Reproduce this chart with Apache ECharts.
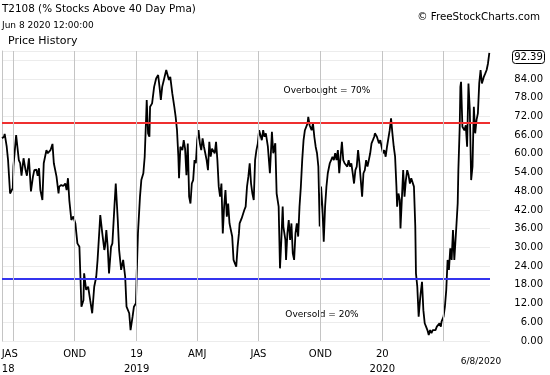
<!DOCTYPE html>
<html>
<head>
<meta charset="utf-8">
<script src="https://cdn.jsdelivr.net/npm/echarts@6.0.0/dist/echarts.min.js"></script>
<style>
html, body { margin: 0; padding: 0; background: #fff; }
#chart { width: 550px; height: 375px; }
</style>
</head>
<body>
<div id="chart"></div>
<script>
// T2108: % of stocks above their 40 day moving average
var t2108_2018 = [
    ['2018-06-15', 65], ['2018-06-18', 65.5], ['2018-06-19', 66.4], ['2018-06-22', 62.3], ['2018-06-24', 58],
    ['2018-06-27', 47.3], ['2018-07-01', 49], ['2018-07-02', 56], ['2018-07-06', 66], ['2018-07-10', 58],
    ['2018-07-12', 57], ['2018-07-14', 53], ['2018-07-17', 58.6], ['2018-07-20', 54.8], ['2018-07-22', 53],
    ['2018-07-25', 58.6], ['2018-07-28', 48], ['2018-07-31', 52.7], ['2018-08-02', 54.8], ['2018-08-05', 55],
    ['2018-08-07', 53], ['2018-08-09', 55.4], ['2018-08-11', 48.4], ['2018-08-14', 45.2], ['2018-08-16', 57],
    ['2018-08-20', 61.2], ['2018-08-22', 60.2], ['2018-08-26', 61.2], ['2018-08-29', 63.2], ['2018-08-31', 57],
    ['2018-09-04', 52.7], ['2018-09-07', 47.3], ['2018-09-08', 49.5], ['2018-09-11', 50], ['2018-09-14', 49.7],
    ['2018-09-17', 50.5], ['2018-09-19', 48.4], ['2018-09-21', 52.2], ['2018-09-23', 45.2], ['2018-09-26', 38.8],
    ['2018-09-29', 39.9], ['2018-10-02', 37.7], ['2018-10-05', 31.3], ['2018-10-08', 30.2], ['2018-10-11', 11],
    ['2018-10-14', 13.1], ['2018-10-15', 21.7], ['2018-10-18', 16.4], ['2018-10-21', 17.4], ['2018-10-24', 13.1],
    ['2018-10-27', 8.9], ['2018-10-30', 17.4], ['2018-11-02', 20.6], ['2018-11-04', 26], ['2018-11-07', 36.7],
    ['2018-11-08', 40.4], ['2018-11-11', 34.5], ['2018-11-14', 29.2], ['2018-11-15', 30.2], ['2018-11-17', 35.6],
    ['2018-11-19', 30.2], ['2018-11-21', 21.7], ['2018-11-24', 30.2], ['2018-11-26', 31.3], ['2018-11-29', 43],
    ['2018-12-01', 50.5], ['2018-12-04', 38.8], ['2018-12-06', 29.2], ['2018-12-09', 22.8], ['2018-12-12', 26],
    ['2018-12-15', 20.6], ['2018-12-17', 11], ['2018-12-21', 8.9], ['2018-12-23', 3.5], ['2018-12-26', 7.8],
    ['2018-12-28', 11], ['2018-12-31', 12.1]
];
var t2108_2019 = [
    ['2019-01-01', 20.6], ['2019-01-03', 34.5], ['2019-01-06', 46.3], ['2019-01-08', 51.6], ['2019-01-11', 53.8],
    ['2019-01-13', 59.1], ['2019-01-15', 70.9], ['2019-01-16', 77.3], ['2019-01-18', 66.6], ['2019-01-20', 65.5],
    ['2019-01-21', 75.1], ['2019-01-24', 76.2], ['2019-01-27', 81.5], ['2019-01-30', 84.2], ['2019-02-02', 85.3],
    ['2019-02-04', 81.5], ['2019-02-06', 77.3], ['2019-02-08', 81.5], ['2019-02-11', 84.2], ['2019-02-14', 86.9],
    ['2019-02-16', 85.3], ['2019-02-18', 83.7], ['2019-02-20', 84.7], ['2019-02-23', 79.4], ['2019-02-26', 75.1],
    ['2019-02-28', 71.9], ['2019-03-02', 67.6], ['2019-03-04', 59.1], ['2019-03-05', 52.2], ['2019-03-07', 62.3],
    ['2019-03-10', 61.2], ['2019-03-12', 64.4], ['2019-03-14', 61.7], ['2019-03-16', 53.2], ['2019-03-18', 63.3],
    ['2019-03-20', 46.3], ['2019-03-22', 44.1], ['2019-03-24', 50.5], ['2019-03-26', 51.6], ['2019-03-28', 58],
    ['2019-03-30', 57], ['2019-04-01', 64.4], ['2019-04-03', 67.6], ['2019-04-05', 63.3], ['2019-04-07', 61.2],
    ['2019-04-09', 65], ['2019-04-11', 62.3], ['2019-04-13', 60.2], ['2019-04-15', 58], ['2019-04-17', 54.8],
    ['2019-04-19', 63.9], ['2019-04-21', 59.1], ['2019-04-23', 61.7], ['2019-04-25', 62.3], ['2019-04-27', 60.2],
    ['2019-04-29', 63.9], ['2019-05-01', 58], ['2019-05-03', 49.5], ['2019-05-05', 46.3], ['2019-05-07', 50.5],
    ['2019-05-09', 34.5], ['2019-05-11', 43.1], ['2019-05-13', 48.4], ['2019-05-15', 39.9], ['2019-05-17', 44.1],
    ['2019-05-19', 37.7], ['2019-05-21', 35.6], ['2019-05-23', 33.5], ['2019-05-25', 26], ['2019-05-27', 24.9],
    ['2019-05-29', 23.8], ['2019-05-31', 30.2], ['2019-06-02', 34.5], ['2019-06-03', 37.7], ['2019-06-06', 39.3],
    ['2019-06-08', 39.3], ['2019-06-10', 42], ['2019-06-12', 43.1], ['2019-06-14', 49.5], ['2019-06-16', 52.7],
    ['2019-06-18', 57], ['2019-06-20', 50.5], ['2019-06-22', 47.3], ['2019-06-24', 45.2], ['2019-06-26', 58],
    ['2019-06-28', 61.2], ['2019-06-30', 63.3], ['2019-07-02', 67.6], ['2019-07-04', 66], ['2019-07-06', 64.4],
    ['2019-07-08', 67.6], ['2019-07-10', 65.5], ['2019-07-12', 66.6], ['2019-07-15', 62.3], ['2019-07-18', 53.8],
    ['2019-07-21', 67.1], ['2019-07-23', 60.2], ['2019-07-26', 63.4], ['2019-07-28', 47.3], ['2019-07-31', 43.1],
    ['2019-08-02', 23.3], ['2019-08-04', 32.4], ['2019-08-06', 43.1], ['2019-08-07', 36.7], ['2019-08-10', 32.4],
    ['2019-08-11', 26], ['2019-08-13', 34.5], ['2019-08-15', 38.8], ['2019-08-17', 32.4], ['2019-08-19', 37.7],
    ['2019-08-21', 28.1], ['2019-08-23', 26], ['2019-08-25', 34.5], ['2019-08-27', 37.7], ['2019-08-29', 33.5],
    ['2019-08-31', 43.1], ['2019-09-02', 49.5], ['2019-09-04', 58], ['2019-09-06', 64.4], ['2019-09-08', 67.6],
    ['2019-09-10', 67.6], ['2019-09-12', 69.8], ['2019-09-13', 71.9], ['2019-09-15', 69.2], ['2019-09-18', 67.6],
    ['2019-09-20', 69.8], ['2019-09-22', 65.5], ['2019-09-24', 62.3], ['2019-09-26', 60.2], ['2019-09-28', 55.9],
    ['2019-09-30', 36.7], ['2019-10-02', 49.5], ['2019-10-04', 43.1], ['2019-10-06', 31.8], ['2019-10-08', 43.1],
    ['2019-10-10', 49.5], ['2019-10-12', 53.8], ['2019-10-14', 53.8], ['2019-10-15', 57], ['2019-10-17', 58],
    ['2019-10-19', 59.1], ['2019-10-21', 58], ['2019-10-23', 60.2], ['2019-10-25', 58], ['2019-10-27', 61.2],
    ['2019-10-29', 53.8], ['2019-10-31', 59.1], ['2019-11-02', 63.9], ['2019-11-04', 58], ['2019-11-06', 57],
    ['2019-11-08', 57], ['2019-11-10', 55.9], ['2019-11-12', 58], ['2019-11-14', 55.9], ['2019-11-16', 57],
    ['2019-11-18', 53.8], ['2019-11-20', 50.5], ['2019-11-22', 54.8], ['2019-11-24', 55.9], ['2019-11-26', 61.2],
    ['2019-11-28', 57], ['2019-11-30', 51.6], ['2019-12-02', 46.3], ['2019-12-04', 53.8], ['2019-12-06', 54.8],
    ['2019-12-08', 58], ['2019-12-10', 55.9], ['2019-12-12', 58], ['2019-12-14', 60.2], ['2019-12-16', 63.4],
    ['2019-12-18', 64.4], ['2019-12-20', 65.5], ['2019-12-21', 66.6], ['2019-12-24', 65.5], ['2019-12-25', 65.5],
    ['2019-12-27', 63.4], ['2019-12-29', 64.4], ['2019-12-31', 62.3]
];
var t2108_2020 = [
    ['2020-01-02', 60.2], ['2020-01-04', 61.2], ['2020-01-06', 59.1], ['2020-01-08', 62.3], ['2020-01-12', 67.6],
    ['2020-01-14', 71.4], ['2020-01-16', 66.6], ['2020-01-18', 62.3], ['2020-01-20', 59.1], ['2020-01-22', 49.5],
    ['2020-01-23', 43.1], ['2020-01-25', 47.3], ['2020-01-27', 45.2], ['2020-01-28', 36.1], ['2020-01-30', 45.2],
    ['2020-02-01', 54.8], ['2020-02-03', 46.3], ['2020-02-05', 51.6], ['2020-02-07', 54.8], ['2020-02-09', 53.2],
    ['2020-02-11', 50.5], ['2020-02-13', 52.2], ['2020-02-15', 51.6], ['2020-02-17', 49.5], ['2020-02-19', 36.7],
    ['2020-02-20', 21.7], ['2020-02-22', 17.4], ['2020-02-24', 7.8], ['2020-02-26', 13.1], ['2020-02-27', 15.3],
    ['2020-02-29', 19], ['2020-03-02', 9.9], ['2020-03-04', 5.7], ['2020-03-06', 4.6], ['2020-03-08', 3.5],
    ['2020-03-10', 1.9], ['2020-03-12', 3.5], ['2020-03-14', 2.5], ['2020-03-16', 3.5], ['2020-03-18', 3],
    ['2020-03-20', 3.5], ['2020-03-22', 4.6], ['2020-03-24', 5.1], ['2020-03-26', 5.7], ['2020-03-28', 4.6],
    ['2020-03-29', 6.2], ['2020-04-01', 7.8], ['2020-04-03', 11], ['2020-04-05', 16.3], ['2020-04-07', 26],
    ['2020-04-09', 22.8], ['2020-04-11', 29.7], ['2020-04-13', 26], ['2020-04-15', 35.6], ['2020-04-17', 26],
    ['2020-04-20', 36.7], ['2020-04-22', 44.1], ['2020-04-23', 54.8], ['2020-04-25', 68.7], ['2020-04-26', 81.5],
    ['2020-04-27', 83.1], ['2020-04-29', 68.7], ['2020-05-02', 67.6], ['2020-05-04', 69.2], ['2020-05-06', 62.3],
    ['2020-05-08', 82.6], ['2020-05-10', 74.1], ['2020-05-12', 51.6], ['2020-05-14', 55.9], ['2020-05-16', 75.1],
    ['2020-05-18', 66.6], ['2020-05-20', 70.9], ['2020-05-22', 73], ['2020-05-24', 82.6], ['2020-05-26', 86.9],
    ['2020-05-28', 82.6], ['2020-05-31', 84.8], ['2020-06-02', 85.8], ['2020-06-04', 86.9], ['2020-06-06', 89],
    ['2020-06-08', 92.39]
];

// quarter boundaries and their labels under the plot
var quarterDates = ['2018-07-01', '2018-10-01', '2019-01-01', '2019-04-01', '2019-07-01', '2019-10-01', '2020-01-01', '2020-04-01'];
var quarterLabels = ['JAS\n18', 'OND', '19\n2019', 'AMJ', 'JAS', 'OND', '20\n2020', ''];

var overbought = 70;
var oversold = 20;

var FONT = 'DejaVu Sans';
var pctData = t2108_2018.concat(t2108_2019, t2108_2020);
var lastPoint = pctData[pctData.length - 1];

var guideLines = [
    {yAxis: overbought, lineStyle: {color: '#ef2f2f', width: 2, type: 'solid'}, label: {show: false}},
    {yAxis: oversold, lineStyle: {color: '#3434ee', width: 2, type: 'solid'}, label: {show: false}}
];
quarterDates.forEach(function (d, i) {
    var lbl = {
        show: quarterLabels[i] !== '',
        position: 'start',
        distance: 6,
        formatter: quarterLabels[i],
        fontFamily: FONT,
        fontSize: 10,
        lineHeight: 15,
        color: '#000'
    };
    if (i === 0) {
        // first label is pushed against the left edge
        lbl.align = 'left';
        lbl.offset = [-11, 0];
    }
    guideLines.push({
        xAxis: d,
        lineStyle: {color: '#c4c4c4', width: 1, type: 'solid'},
        label: lbl
    });
});

var myChart = echarts.init(document.getElementById('chart'));

option = {
    animation: false,
    backgroundColor: '#fff',
    textStyle: {fontFamily: FONT},
    title: [
        {text: 'T2108 (% Stocks Above 40 Day Pma)', left: 2, top: 4, padding: 0,
            textStyle: {fontFamily: FONT, fontSize: 10.4, fontWeight: 'normal', color: '#000'}},
        {text: 'Jun 8 2020 12:00:00', left: 2, top: 21, padding: 0,
            textStyle: {fontFamily: FONT, fontSize: 9, fontWeight: 'normal', color: '#000'}},
        {text: 'Price History', left: 8, top: 36, padding: 0,
            textStyle: {fontFamily: FONT, fontSize: 11, fontWeight: 'normal', color: '#000'}},
        {text: '\u00a9 FreeStockCharts.com', right: 10, top: 12, padding: 0,
            textStyle: {fontFamily: FONT, fontSize: 10.3, fontWeight: 'normal', color: '#000'}}
    ],
    grid: {left: 2, right: 60, top: 51, bottom: 34},
    xAxis: {
        type: 'time',
        min: '2018-06-15',
        max: '2020-06-09',
        axisLine: {show: false},
        axisTick: {show: false},
        axisLabel: {show: false},
        splitLine: {show: false}
    },
    yAxis: [
        {
            type: 'value',
            position: 'right',
            min: 0,
            max: 93,
            interval: 6,
            axisLine: {show: false},
            axisTick: {show: false},
            splitLine: {lineStyle: {color: '#ececec', width: 1}},
            axisLabel: {
                margin: 53,
                align: 'right',
                fontFamily: FONT,
                fontSize: 10,
                color: '#000',
                showMaxLabel: false,
                formatter: function (v) { return v > 88 ? '' : v.toFixed(2); }
            }
        },
        {
            type: 'value',
            position: 'left',
            min: 0,
            max: 93,
            axisLine: {show: true, lineStyle: {color: '#c4c4c4', width: 1}},
            axisTick: {show: false},
            axisLabel: {show: false},
            splitLine: {show: false}
        }
    ],
    series: [
        {
            name: 'guides',
            type: 'line',
            data: [],
            z: 1,
            silent: true,
            markLine: {
                silent: true,
                symbol: ['none', 'none'],
                animation: false,
                data: guideLines
            }
        },
        {
            name: 'T2108',
            type: 'line',
            data: pctData,
            z: 3,
            symbol: 'none',
            showSymbol: false,
            lineStyle: {color: '#000', width: 1.8}
        }
    ]
};

myChart.setOption(option);

// annotations placed from the axis scale
var y70 = myChart.convertToPixel({yAxisIndex: 0}, overbought);
var y20 = myChart.convertToPixel({yAxisIndex: 0}, oversold);
var yLast = myChart.convertToPixel({yAxisIndex: 0}, lastPoint[1]);
var boxTop = Math.max(50, yLast - 7);

myChart.setOption({
    graphic: [
        {type: 'text', x: 327, y: y70 - 32, style: {text: 'Overbought = ' + overbought + '%', font: '9px "DejaVu Sans"', fill: '#000', align: 'center', verticalAlign: 'middle'}},
        {type: 'text', x: 322, y: y20 + 36, style: {text: 'Oversold = ' + oversold + '%', font: '9px "DejaVu Sans"', fill: '#000', align: 'center', verticalAlign: 'middle'}},
        {type: 'text', x: 481, y: 362, style: {text: '6/8/2020', font: '9px "DejaVu Sans"', fill: '#000', align: 'center', verticalAlign: 'middle'}},
        {type: 'rect', shape: {x: 512.5, y: boxTop + 0.5, width: 32, height: 13, r: 3}, style: {fill: '#fff', stroke: '#000', lineWidth: 1}, z: 10},
        {type: 'text', x: 528.5, y: boxTop + 7, z: 11, style: {text: lastPoint[1].toFixed(2), font: '10px "DejaVu Sans"', fill: '#000', align: 'center', verticalAlign: 'middle'}}
    ]
});
</script>
</body>
</html>
